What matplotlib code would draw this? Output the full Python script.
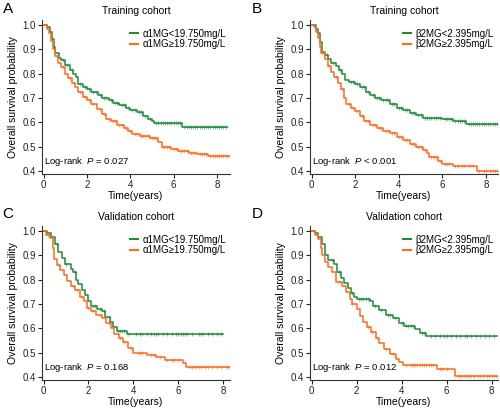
import numpy as np
import matplotlib
matplotlib.use("Agg")
import matplotlib.pyplot as plt
from matplotlib.lines import Line2D

plt.rcParams['font.family'] = ['Liberation Sans', 'DejaVu Sans']
plt.rcParams['mathtext.fontset'] = 'custom'
plt.rcParams['mathtext.it'] = 'Liberation Sans:italic'
plt.rcParams['mathtext.rm'] = 'Liberation Sans'

GREEN = '#1F8A3B'
ORANGE = '#FF6A1C'

# ---------------- data ----------------
titles = ["Training cohort", "Training cohort", "Validation cohort", "Validation cohort"]
letters = ["A", "B", "C", "D"]
legend_low = ["α1MG<19.750mg/L", "β2MG<2.395mg/L", "α1MG<19.750mg/L", "β2MG<2.395mg/L"]
legend_high = ["α1MG≥19.750mg/L", "β2MG≥2.395mg/L", "α1MG≥19.750mg/L", "β2MG≥2.395mg/L"]
pvalues = ["= 0.027", "< 0.001", "= 0.168", "= 0.012"]
x_end = [8.6, 8.55, 8.3, 8.28]

# Panel A
A_low_t = [0, 0.15, 0.3, 0.4, 0.5, 0.55, 0.7, 0.8, 1.0, 1.2, 1.35, 1.5, 1.6, 1.8, 2.0, 2.2, 2.5, 2.7, 3.0, 3.2,
           3.5, 3.8, 4.0, 4.3, 4.6, 4.8, 5.0, 5.1, 6.4, 8.45]
A_low_s = [1.0, 0.99, 0.97, 0.94, 0.91, 0.885, 0.865, 0.855, 0.835, 0.815, 0.80, 0.785, 0.755, 0.745, 0.735, 0.725,
           0.71, 0.70, 0.69, 0.68, 0.67, 0.66, 0.65, 0.64, 0.625, 0.615, 0.605, 0.597, 0.58, 0.58]
A_low_c = [0.9, 1.1, 1.3, 1.7, 1.9, 2.1, 2.3, 2.4, 2.6, 2.8, 2.9, 3.1, 3.3, 3.4, 3.6, 3.7, 3.9, 4.1, 4.2, 4.4, 4.5,
           4.7, 4.9, 5.2, 5.3, 5.4, 5.5, 5.6, 5.7, 5.8, 5.9, 6.0, 6.1, 6.2, 6.3, 6.5, 6.6, 6.7, 6.8, 6.9, 7.0, 7.1,
           7.2, 7.3, 7.4, 7.5, 7.6, 7.7, 7.8, 7.9, 8.0, 8.1, 8.2, 8.3, 8.4]
A_high_t = [0, 0.15, 0.25, 0.35, 0.45, 0.55, 0.65, 0.8, 1.0, 1.15, 1.3, 1.45, 1.6, 1.8, 2.0, 2.2, 2.45, 2.7, 2.9, 3.1,
            3.4, 3.7, 3.9, 4.1, 4.45, 4.9, 5.3, 5.45, 5.9, 6.2, 6.7, 7.1, 7.6, 8.55]
A_high_s = [1.0, 0.985, 0.965, 0.935, 0.90, 0.87, 0.845, 0.825, 0.80, 0.78, 0.76, 0.745, 0.725, 0.705, 0.69, 0.675,
            0.655, 0.635, 0.615, 0.605, 0.59, 0.578, 0.565, 0.553, 0.545, 0.533, 0.52, 0.50, 0.49, 0.48, 0.475,
            0.47, 0.46, 0.46]
A_high_c = [0.6, 0.9, 1.2, 1.4, 1.7, 1.9, 2.1, 2.3, 2.6, 2.8, 3.0, 3.2, 3.3, 3.5, 3.6, 3.8, 4.0, 4.2, 4.3, 4.5, 4.6,
            4.7, 4.8, 5.0, 5.1, 5.2, 5.5, 5.6, 5.7, 5.8, 6.0, 6.1, 6.3, 6.4, 6.5, 6.6, 6.8, 6.9, 7.0, 7.2, 7.3, 7.4,
            7.5, 7.7, 7.8, 7.9, 8.0, 8.1, 8.2, 8.3, 8.4, 8.5]

# Panel B
B_low_t = [0, 0.2, 0.3, 0.4, 0.5, 0.6, 0.75, 0.9, 1.1, 1.25, 1.4, 1.55, 1.7, 2.0, 2.2, 2.5, 2.7, 2.9, 3.2, 3.6,
           3.9, 4.2, 4.5, 4.8, 5.1, 6.0, 6.5, 7.1, 8.55]
B_low_s = [1.0, 0.985, 0.965, 0.93, 0.89, 0.875, 0.86, 0.845, 0.83, 0.815, 0.80, 0.775, 0.765, 0.755, 0.745, 0.725,
           0.71, 0.70, 0.69, 0.675, 0.66, 0.65, 0.638, 0.628, 0.618, 0.613, 0.605, 0.592, 0.592]
B_low_c = [0.7, 1.0, 1.3, 1.8, 1.9, 2.1, 2.3, 2.4, 2.6, 2.8, 3.0, 3.1, 3.3, 3.4, 3.5, 3.7, 3.8, 4.0, 4.1, 4.3, 4.4,
           4.6, 4.7, 4.9, 5.0, 5.2, 5.3, 5.4, 5.5, 5.6, 5.7, 5.8, 5.9, 6.1, 6.2, 6.3, 6.4, 6.6, 6.7, 6.8, 6.9, 7.0,
           7.2, 7.3, 7.4, 7.5, 7.6, 7.7, 7.8, 7.9, 8.0, 8.1, 8.2, 8.3, 8.4, 8.5]
B_high_t = [0, 0.1, 0.2, 0.3, 0.4, 0.45, 0.6, 0.75, 0.9, 1.05, 1.2, 1.35, 1.5, 1.6, 1.8, 2.0, 2.2, 2.4, 2.7, 3.0,
            3.3, 3.6, 3.9, 4.2, 4.5, 4.8, 5.1, 5.3, 5.4, 5.8, 6.0, 6.5, 7.6, 8.55]
B_high_s = [1.0, 0.99, 0.97, 0.945, 0.91, 0.885, 0.86, 0.83, 0.805, 0.785, 0.76, 0.735, 0.70, 0.675, 0.66, 0.645,
            0.625, 0.605, 0.59, 0.578, 0.565, 0.555, 0.54, 0.525, 0.51, 0.50, 0.485, 0.475, 0.455, 0.44, 0.43,
            0.42, 0.40, 0.40]
B_high_c = [0.5, 0.8, 1.1, 1.4, 1.7, 1.9, 2.1, 2.3, 2.5, 2.6, 2.8, 2.9, 3.1, 3.2, 3.4, 3.5, 3.7, 3.8, 4.0, 4.1, 4.3,
            4.4, 4.6, 4.7, 4.9, 5.0, 5.2, 5.5, 5.6, 5.7, 5.9, 6.1, 6.2, 6.3, 6.6, 6.7, 6.9, 7.0, 7.2, 7.4, 7.7, 7.9,
            8.0, 8.2, 8.3, 8.4, 8.5]

# Panel C
C_low_t = [0, 0.15, 0.35, 0.5, 0.65, 0.8, 0.95, 1.2, 1.3, 1.45, 1.55, 1.7, 1.85, 2.0, 2.1, 2.4, 2.6, 2.75, 2.95,
           3.1, 3.25, 3.7, 8.0]
C_low_s = [1.0, 0.99, 0.975, 0.945, 0.915, 0.89, 0.865, 0.845, 0.83, 0.80, 0.78, 0.755, 0.735, 0.71, 0.69, 0.68,
           0.67, 0.645, 0.625, 0.605, 0.59, 0.575, 0.575]
C_low_c = [0.6, 1.0, 1.4, 2.2, 2.3, 2.5, 2.7, 2.9, 3.3, 3.4, 3.5, 3.6, 3.8, 4.1, 4.3, 4.4, 4.6, 4.8, 4.9, 5.0, 5.1,
           5.3, 5.5, 5.7, 5.9, 6.0, 6.1, 6.2, 6.3, 6.4, 6.6, 6.9, 7.0, 7.1, 7.3, 7.5, 7.7, 7.9]
C_high_t = [0, 0.1, 0.3, 0.4, 0.45, 0.6, 0.75, 0.9, 1.05, 1.2, 1.4, 1.6, 1.8, 1.95, 2.1, 2.35, 2.6, 2.8, 3.0, 3.15,
            3.35, 3.55, 3.75, 4.0, 4.6, 5.0, 5.4, 6.2, 6.35, 8.3]
C_high_s = [1.0, 0.985, 0.97, 0.93, 0.885, 0.86, 0.84, 0.82, 0.795, 0.775, 0.755, 0.73, 0.71, 0.685, 0.672, 0.655,
            0.64, 0.62, 0.60, 0.575, 0.56, 0.545, 0.52, 0.50, 0.49, 0.48, 0.47, 0.455, 0.44, 0.44]
C_high_c = [0.2, 0.7, 1.3, 1.5, 1.7, 2.0, 2.2, 2.5, 2.9, 3.4, 3.6, 3.9, 4.2, 4.3, 4.4, 4.8, 4.9, 5.2, 5.5, 5.7,
            5.8, 6.0, 6.5, 6.6, 6.7, 6.8, 6.9, 7.0, 7.2, 7.3, 7.5, 7.7, 7.9, 8.1, 8.2]

# Panel D
D_low_t = [0, 0.15, 0.3, 0.45, 0.6, 0.75, 1.0, 1.15, 1.3, 1.45, 1.6, 1.75, 1.9, 2.0, 2.6, 2.75, 3.0, 3.3, 3.6,
           3.9, 4.1, 4.6, 4.8, 5.1, 8.25]
D_low_s = [1.0, 0.99, 0.975, 0.945, 0.90, 0.88, 0.865, 0.83, 0.805, 0.785, 0.765, 0.745, 0.73, 0.72, 0.71, 0.69,
           0.675, 0.655, 0.64, 0.62, 0.61, 0.595, 0.58, 0.568, 0.568]
D_low_c = [0.9, 1.2, 1.8, 2.1, 2.2, 2.3, 2.4, 2.5, 2.8, 3.1, 3.4, 3.5, 3.7, 4.0, 4.2, 4.3, 4.4, 4.5, 4.9, 5.0, 5.3,
           5.5, 5.7, 5.9, 6.0, 6.2, 6.4, 6.6, 6.8, 6.9, 7.1, 7.3, 7.5, 7.7, 7.9, 8.1]
D_high_t = [0, 0.15, 0.3, 0.4, 0.45, 0.6, 0.75, 0.9, 1.1, 1.35, 1.55, 1.7, 1.8, 2.0, 2.15, 2.3, 2.45, 2.65, 2.85,
            3.0, 3.2, 3.5, 3.75, 3.9, 4.05, 5.55, 6.35, 8.27]
D_high_s = [1.0, 0.985, 0.965, 0.93, 0.90, 0.87, 0.85, 0.83, 0.79, 0.775, 0.75, 0.72, 0.70, 0.68, 0.65, 0.625,
            0.605, 0.585, 0.56, 0.54, 0.515, 0.495, 0.475, 0.46, 0.447, 0.433, 0.405, 0.405]
D_high_c = [1.2, 1.8, 2.5, 2.7, 2.9, 3.3, 3.6, 4.2, 4.4, 4.5, 4.6, 4.7, 4.8, 4.9, 5.0, 5.1, 5.2, 5.3, 5.4, 5.7,
            5.8, 6.0, 6.5, 6.6, 6.7, 6.8, 6.9, 7.0, 7.1, 7.2, 7.4, 7.5, 7.6, 7.8, 7.9, 8.0, 8.1, 8.2]

panels = [
    (A_low_t, A_low_s, A_low_c, A_high_t, A_high_s, A_high_c),
    (B_low_t, B_low_s, B_low_c, B_high_t, B_high_s, B_high_c),
    (C_low_t, C_low_s, C_low_c, C_high_t, C_high_s, C_high_c),
    (D_low_t, D_low_s, D_low_c, D_high_t, D_high_s, D_high_c),
]

# ---------------- layout (pixels) ----------------
W, H = 500, 408
fig = plt.figure(figsize=(W / 100, H / 100), dpi=100)
ax_pos = [(42, 20), (310, 20), (42, 226), (310, 226)]
ax_w, ax_h = 188, 154
letter_pos = [(3, 2), (252, 2), (2, 207), (252, 207)]


def step_value(t, s, x):
    idx = np.searchsorted(np.asarray(t), np.asarray(x), side='right') - 1
    return np.asarray(s)[idx]


for i in range(4):
    lx, ty = ax_pos[i]
    ax = fig.add_axes([lx / W, 1 - (ty + ax_h) / H, ax_w / W, ax_h / H])
    lt, ls, lc, ht, hs, hc = panels[i]
    ax.plot(lt, ls, drawstyle='steps-post', color=GREEN, lw=1.1, zorder=3)
    ax.plot(ht, hs, drawstyle='steps-post', color=ORANGE, lw=1.1, zorder=3)
    ax.plot(lc, step_value(lt, ls, lc), ls='none', marker='+', ms=3.2, mew=0.7,
            color=GREEN, alpha=0.55, zorder=4)
    ax.plot(hc, step_value(ht, hs, hc), ls='none', marker='+', ms=3.2, mew=0.7,
            color=ORANGE, alpha=0.55, zorder=4)

    ax.set_xlim(-0.07, x_end[i])
    ax.set_ylim(0.387, 1.02)
    ax.set_xticks([0, 2, 4, 6, 8])
    ax.set_yticks([0.4, 0.5, 0.6, 0.7, 0.8, 0.9, 1.0])
    ax.set_yticklabels(['0.4', '0.5', '0.6', '0.7', '0.8', '0.9', '1.0'])
    for side in ['top', 'right']:
        ax.spines[side].set_visible(False)
    for side in ['left', 'bottom']:
        ax.spines[side].set_linewidth(0.8)
        ax.spines[side].set_color('#333333')
    ax.tick_params(labelsize=7, length=3, width=0.8, pad=1.5, colors='#222222')
    ax.set_xlabel('Time(years)', fontsize=7.5, labelpad=0.5)
    ax.set_ylabel('Overall survival probability', fontsize=7.5, labelpad=3)
    ax.set_title(titles[i], fontsize=7.5, pad=4)

    handles = [Line2D([0], [0], color=GREEN, lw=1.5), Line2D([0], [0], color=ORANGE, lw=1.5)]
    ax.legend(handles, [legend_low[i], legend_high[i]], loc='upper right', frameon=False,
              fontsize=7, handlelength=0.8, handletextpad=0.5, labelspacing=0.1,
              borderaxespad=0.0, bbox_to_anchor=(1.0, 0.97))
    ax.text(0.01, 0.04, r'Log-rank  $\mathit{P}$ ' + pvalues[i], transform=ax.transAxes,
            fontsize=6.8, ha='left', va='bottom')

    fig.text(letter_pos[i][0] / W, 1 - letter_pos[i][1] / H, letters[i], fontsize=11,
             ha='left', va='top')

fig.savefig('out.png', dpi=100)
